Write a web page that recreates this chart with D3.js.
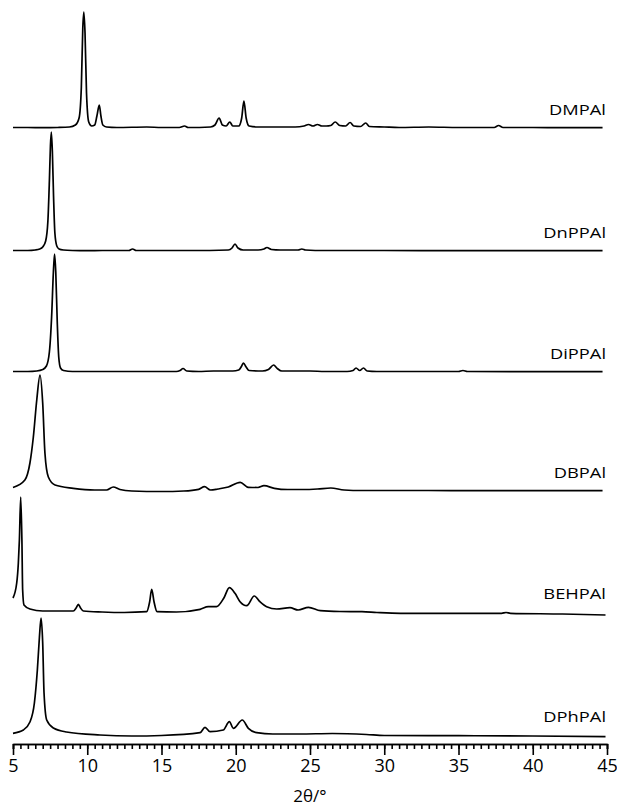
<!DOCTYPE html>
<html>
<head>
	<meta charset="utf-8">
	<title>XRD patterns</title>
	<script src="https://cdn.jsdelivr.net/npm/d3@7"></script>
	<style type="text/css">
		body {
			margin: 0;
			background: white;
		}
		.trace {
			fill: none;
			stroke: black;
			stroke-width: 1.7;
			stroke-linejoin: round;
		}
		.axis path,
		.axis line {
			fill: none;
			stroke: black;
			stroke-width: 1.6;
		}
		.axis text {
			font-family: "Open Sans", sans-serif;
			font-size: 18px;
		}
		.label {
			font-family: "Open Sans", sans-serif;
			font-size: 15px;
		}
	</style>
</head>
<body>
	<script type="text/javascript">
		// sample names, top to bottom
		var names = ["DMPAl", "DnPPAl", "DiPPAl", "DBPAl", "BEHPAl", "DPhPAl"];
		// vertical offset of each pattern (same units as intensity)
		var offsets = [616, 493, 372, 253, 132, 9];

		// [2theta, intensity]
		var dmpal = [[5,0.5],[6,0.5],[7,0.3],[8,0.5],[8.8,1],[9.2,3],[9.45,10],[9.6,40],[9.7,100],[9.77,116],[9.85,95],[9.95,35],[10.1,6],[10.3,2],[10.5,3],[10.65,12],[10.81,23],[10.92,12],[11.05,3],[11.3,1],
			[12,0.5],[14,1],[15,0.5],[16.2,0.5],[16.55,2],[16.8,0.5],[18.3,1],[18.6,3],[18.88,10],[19.1,3],[19.35,2],[19.6,6],[19.8,2],[20.2,2],[20.4,10],[20.55,27],[20.7,10],[20.9,2],
			[21.5,1],[23,1],[24,1],[24.6,2],[24.9,3.5],[25.2,2],[25.5,3.5],[25.8,2],[26.1,2],[26.4,2.5],[26.7,6],[27,2.5],[27.4,2],[27.7,5.5],[27.95,2],[28.4,1.5],[28.75,5],[29,1.5],
			[30,1],[31,0.5],[33,1],[35,0.5],[37.4,0.5],[37.7,2.5],[38,0.5],[40,0.5],[42,0.3],[44.7,0.3]];
		var dnppal = [[5,0.5],[6,0.5],[6.5,1],[6.8,2],[7.0,4],[7.2,10],[7.35,30],[7.45,70],[7.52,105],[7.58,119],[7.65,100],[7.73,55],[7.82,18],[7.95,5],[8.1,2],[8.4,1],[9,0.5],
			[10,0.3],[11,0.5],[12,0.5],[12.8,0.5],[13.05,2],[13.3,0.5],[15,0.5],[17,0.5],[19.5,1],[19.75,3],[19.95,7],[20.15,3],[20.5,1],[21.5,1],[21.9,2],[22.1,3.5],[22.4,1.5],
			[23,1],[24.2,1],[24.45,2],[24.7,1],[26,0.5],[28,0.5],[30,0.5],[35,0.3],[40,0.3],[44.7,0.3]];
		var dippal = [[5,0.5],[6,0.5],[6.6,1],[7.0,2.5],[7.25,6],[7.45,20],[7.6,55],[7.72,100],[7.8,118],[7.88,100],[7.98,50],[8.08,15],[8.2,4],[8.4,1.5],[9,0.5],
			[10,0.5],[12,0.5],[14,0.5],[16,0.5],[16.25,1.5],[16.45,3.5],[16.7,1],[17.5,0.5],[18.5,1],[19,1],[19.8,1],[20.2,2],[20.4,6],[20.52,9],[20.7,5],[20.9,1.5],
			[21.8,1],[22.2,2.5],[22.55,7],[22.8,3.5],[23.1,1],[24,1],[25,1],[26,0.5],[27.5,0.5],[27.9,1.5],[28.1,4],[28.35,1.5],[28.6,4],[28.85,1],[29.5,0.5],
			[31,0.5],[35,0.5],[35.3,1.5],[35.6,0.5],[40,0.3],[44.7,0.3]];
		var dbpal = [[5,3.5],[5.8,11],[6.14,28],[6.37,54],[6.6,91],[6.82,116],[7.0,88],[7.15,38],[7.38,14],[7.83,6],[9.06,2.7],[10.5,1],[11.3,1],[11.75,4],[12.2,1.5],
			[13,0],[15,-0.5],[16.5,0],[17.5,1.7],[17.9,4.3],[18.3,1],[18.8,2],[19.5,4],[20.3,8.7],[20.85,3.7],[21.5,3.5],[21.9,5.3],[22.6,2.7],[23.5,1.5],
			[24.5,1.5],[25.5,2],[26.4,3],[27.3,1],[28.5,0.5],[30,0.5],[33,0.5],[36,0.3],[40,0.3],[44.7,0.3]];
		var behpal = [[5,14],[5.25,29],[5.36,49],[5.43,72],[5.52,115],[5.6,72],[5.65,22],[5.74,7],[6.14,3],[7,1],[8,1],[9.06,1],[9.25,4],[9.4,7.7],[9.55,4],[9.74,1],
			[11,0],[12.5,-0.5],[14,0.3],[14.2,10],[14.34,22.7],[14.5,10],[14.7,0.3],[16,0],[17.6,2.7],[18.15,5.3],[18.7,5.3],[19.2,14],[19.57,24.3],[19.95,18.7],[20.29,10.3],
			[20.74,6.3],[21.25,16],[21.63,10.3],[22.08,5.3],[22.76,3],[23.65,4.3],[24.2,2],[24.9,4.7],[25.7,1.3],[27,0.5],[28.5,0.3],[29.5,-0.5],[31.1,-1.3],
			[35,-1.3],[37.9,-1.3],[38.2,-0.5],[38.5,-1.3],[42,-2],[44.9,-3]];
		var dphpal = [[5,1.7],[5.7,5],[6.14,13],[6.44,32],[6.64,65],[6.78,98],[6.89,117],[7.0,92],[7.09,42],[7.27,15],[7.72,7],[8.6,3],[10.86,0],[13,-1],[15,-0.5],
			[17.6,2.3],[17.93,7.7],[18.27,3.3],[19.16,5],[19.57,13.3],[19.84,6.7],[20.44,15],[20.85,6.7],[21.41,2.3],[22.5,1],[24.3,1],[26.5,1.5],[28.8,0.5],
			[30,-0.5],[35,-0.7],[40,-1],[44.9,-1.7]];
		var patterns = [dmpal, dnppal, dippal, dbpal, behpal, dphpal];

		var majorTicks = [5, 10, 15, 20, 25, 30, 35, 40, 45];
		var xTitle = "2\u03b8/\u00b0";

		var width = 617,
			height = 807;

		var svg = d3.select("body")
					.append("svg")
					.attr("width", width)
					.attr("height", height);

		var xScale = d3.scaleLinear()
			.domain([5, 45])
			.range([13, 607]);
		var yScale = d3.scaleLinear()
			.domain([0, 740])
			.range([744, 4]);

		var line = d3.line()
			.x(function (d) { return xScale(d[0]); })
			.y(function (d) { return yScale(d[1]); })
			.curve(d3.curveMonotoneX);

		svg.selectAll(".trace")
			.data(patterns)
			.enter()
			.append("path")
			.attr("class", "trace")
			.attr("d", function (d, i) {
				return line(d.map(function (p) { return [p[0], p[1] + offsets[i]]; }));
			});

		// sample labels, right aligned above each baseline
		svg.selectAll(".label")
			.data(names)
			.enter()
			.append("text")
			.attr("class", "label")
			.attr("text-anchor", "end")
			.attr("transform", function (d, i) {
				return "translate(" + 606 + "," + yScale(offsets[i] + 13) + ") scale(1.22,1)";
			})
			.text(function (d) { return d; });

		// minor ticks
		var minorAxis = d3.axisBottom(xScale)
			.tickValues(d3.range(5, 45.01, 0.5))
			.tickSize(5)
			.tickFormat("");
		svg.append("g")
			.attr("class", "axis")
			.attr("transform", "translate(0," + 744 + ")")
			.call(minorAxis);

		var xAxis = d3.axisBottom(xScale)
			.tickValues(majorTicks)
			.tickSize(11)
			.tickSizeOuter(0)
			.tickPadding(4);
		svg.append("g")
			.attr("class", "axis")
			.attr("transform", "translate(0," + 744 + ")")
			.call(xAxis);

		svg.append("text")
			.attr("x", xScale(25))
			.attr("y", 802)
			.attr("text-anchor", "middle")
			.style("font-family", "Open Sans, sans-serif")
			.style("font-size", "17px")
			.text(xTitle);
	</script>
</body>
</html>
